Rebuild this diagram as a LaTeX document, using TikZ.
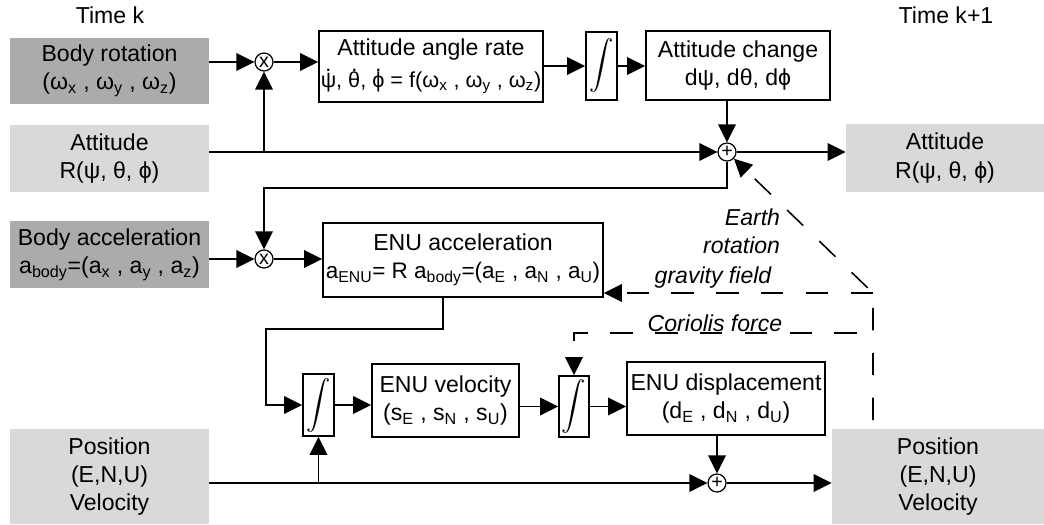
\documentclass[tikz,border=0pt]{standalone}
\usepackage{amsmath}
\usepackage{fontspec}
\setmainfont{Liberation Sans}
\usetikzlibrary{arrows.meta}
\usetikzlibrary{positioning}

\newsavebox{\dotbox}
\newcommand{\dotgr}[1]{\sbox{\dotbox}{#1}\rlap{\hbox to\wd\dotbox{\hss\smash{\raisebox{0.74em}{.}}\hss}}#1}

\tikzset{
  darkbox/.style={rectangle,fill=black!33,align=center,minimum width=4.975cm,minimum height=1.675cm,inner sep=0pt},
  lightbox/.style={darkbox,fill=black!15},
  blockbox/.style={rectangle,draw,line width=1.1pt,align=center,inner sep=0pt},
  intbox/.style={blockbox,minimum width=0.775cm},
  opnode/.style={circle,draw,line width=0.9pt,minimum size=0.45cm,inner sep=0pt,font=\fontsize{14}{14}\selectfont},
  arr/.style={line width=1.1pt,-{Triangle[length=0.45cm,width=0.44cm]}},
  dasharr/.style={arr,dash pattern=on 0.56cm off 0.56cm},
}

\begin{document}
\fontsize{16.4}{20}\selectfont
\begin{tikzpicture}[x=0.025cm,y=-0.025cm]
\useasboundingbox (0,0) rectangle (1044,525);

% time k inputs
\node (tk) at (110,15) {Time k};
\node[darkbox,minimum height=1.65cm] (rot) at (109.5,71) {Body rotation\\(ω\textsubscript{x} , ω\textsubscript{y} , ω\textsubscript{z})};
\node[lightbox] (att) at (109.5,158.5) {Attitude\\R(ψ, θ, ϕ)};
\node[darkbox] (acc) at (109.5,254.5) {Body acceleration\\a\textsubscript{body}=(a\textsubscript{x} , a\textsubscript{y} , a\textsubscript{z})};
\node[lightbox,minimum height=2.375cm] (pos) at (109.5,476.5) {Position\\(E,N,U)\\Velocity};

% time k+1 outputs
\node (tk1) at (946,15) {Time k+1};
\node[lightbox,minimum width=4.95cm,minimum height=1.7cm] (attR) at (945,158) {Attitude\\R(ψ, θ, ϕ)};
\node[lightbox,minimum width=5.3cm,minimum height=2.375cm] (posR) at (938,476.5) {Position\\(E,N,U)\\Velocity};

% attitude chain
\node[opnode] (m1) at (264,62) {x};
\node[blockbox,minimum width=5.6cm,minimum height=1.775cm] (rate) at (431,66.5) {Attitude angle rate\\[3pt]{\fontsize{15.4}{20}\selectfont\dotgr{ψ}, \dotgr{θ}, \dotgr{ϕ} = f(ω\textsubscript{x} , ω\textsubscript{y} , ω\textsubscript{z})}};
\node[intbox,minimum height=1.7cm,font=\fontsize{18}{18}\selectfont] (int1) at (601.5,66) {$\displaystyle\int$};
\node[blockbox,minimum width=4.6cm,minimum height=1.725cm] (chg) at (738,65.5) {Attitude change\\dψ, dθ, dϕ};
\node[opnode] (p1) at (727,152) {+};

% acceleration chain
\node[opnode] (m2) at (264,259) {x};
\node[blockbox,minimum width=7cm,minimum height=1.85cm] (acl) at (463,260) {ENU acceleration\\{\fontsize{16}{20}\selectfont a\textsubscript{ENU}= R a\textsubscript{body}=(a\textsubscript{E} , a\textsubscript{N} , a\textsubscript{U})}};
\node[intbox,minimum height=1.55cm,font=\fontsize{16}{16}\selectfont] (int2) at (318.5,405) {$\displaystyle\int$};
\node[blockbox,minimum width=3.675cm,minimum height=1.825cm] (vel) at (445.5,400.5) {ENU velocity\\(s\textsubscript{E} , s\textsubscript{N} , s\textsubscript{U})};
\node[intbox,minimum width=0.75cm,minimum height=1.525cm,font=\fontsize{16}{16}\selectfont] (int3) at (574,406.5) {$\displaystyle\int$};
\node[blockbox,minimum width=4.95cm,minimum height=1.825cm] (dsp) at (726,398.5) {ENU displacement\\(d\textsubscript{E} , d\textsubscript{N} , d\textsubscript{U})};
\node[opnode] (p2) at (717,483) {+};

% earth terms
\node[font=\itshape,align=right,anchor=east] (er) at (788,231) {Earth\\rotation};
\node[font=\itshape] (grv) at (713,278) {gravity field};
\node[font=\itshape] (cor) at (715,323) {Coriolis force};

\coordinate (fb) at (264,188);
\coordinate (ab) at (443,329);
\coordinate (vb) at (266,329);
\coordinate (ec) at (873,293);
\coordinate (eb) at (873,420);
\coordinate (cc) at (873,333);

\draw[arr] (m1 -| rot.east) -- (m1);
\draw[arr] (p1 -| att.east) -- (p1);
\draw[arr] (m1 |- p1) -- (m1);
\draw[arr] (m1) -- (m1 -| rate.west);
\draw[arr] (int1 -| rate.east) -- (int1);
\draw[arr] (int1) -- (int1 -| chg.west);
\draw[arr] (p1 |- chg.south) -- (p1);
\draw[arr] (p1) -- (p1 -| attR.west);
\draw[arr] (p1) |- (fb) -- (m2);
\draw[arr] (m2 -| acc.east) -- (m2);
\draw[arr] (m2) -- (m2 -| acl.west);
\draw[arr] (ab |- acl.south) -- (ab) -- (vb) |- (int2);
\draw[arr] (int2) -- (int2 -| vel.west);
\draw[arr] (int3 -| vel.east) -- (int3);
\draw[arr] (int3) -- (int3 -| dsp.west);
\draw[arr] (p2 |- dsp.south) -- (p2);
\draw[arr] (p2 -| pos.east) -- (p2);
\draw[arr] (int2 |- p2) -- (int2);
\draw[arr] (p2) -- (p2 -| posR.west);

\draw[dasharr] (eb) -- (ec) -- (p1);
\draw[dasharr] (ec) -- (ec -| acl.east);
\draw[dasharr,dash phase=0.715cm] (cc) -| (int3);

\end{tikzpicture}
\end{document}
